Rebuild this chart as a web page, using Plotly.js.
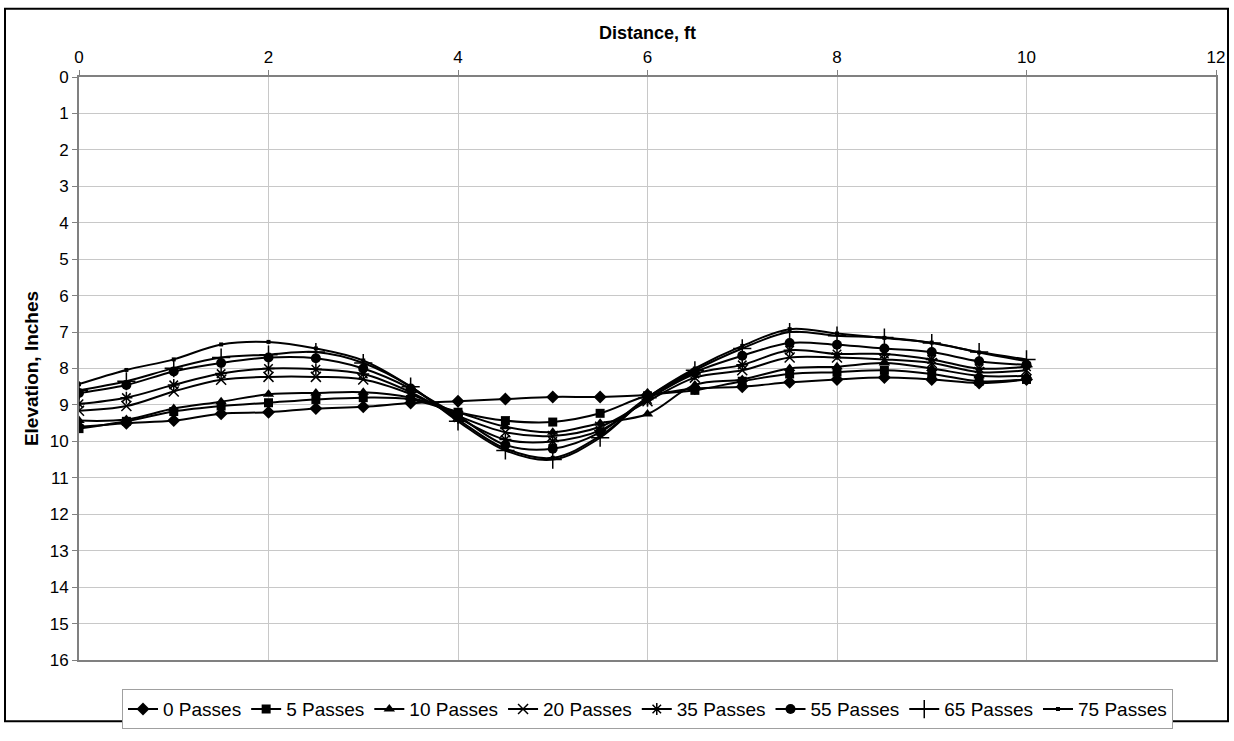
<!DOCTYPE html>
<html>
<head>
<meta charset="utf-8">
<script src="https://cdn.plot.ly/plotly-3.0.1.min.js"></script>
<style>
html,body{margin:0;padding:0;background:#fff;}
#chart{width:1234px;height:741px;}
</style>
</head>
<body>
<div id="chart"></div>
<script>
// Distance along the profile, ft
const distance = [0,0.5,1,1.5,2,2.5,3,3.5,4,4.5,5,5.5,6,6.5,7,7.5,8,8.5,9,9.5,10];

// Elevation, inches, for each number of passes
const passes0  = [9.6, 9.5, 9.43, 9.24, 9.2, 9.1, 9.05, 8.95, 8.9, 8.84, 8.78, 8.78, 8.72, 8.55, 8.5, 8.38, 8.3, 8.25, 8.3, 8.4, 8.3];
const passes5  = [9.65, 9.45, 9.18, 9.03, 8.94, 8.85, 8.8, 8.85, 9.2, 9.43, 9.47, 9.23, 8.75, 8.6, 8.35, 8.15, 8.1, 8.05, 8.15, 8.35, 8.3];
const passes10 = [9.43, 9.4, 9.1, 8.91, 8.71, 8.67, 8.65, 8.8, 9.2, 9.6, 9.75, 9.5, 9.25, 8.45, 8.3, 8.0, 7.95, 7.85, 8.0, 8.2, 8.2];
const passes20 = [9.16, 9.03, 8.63, 8.31, 8.23, 8.23, 8.3, 8.7, 9.3, 9.75, 9.85, 9.6, 8.9, 8.25, 8.05, 7.7, 7.7, 7.75, 7.85, 8.1, 8.05];
const passes35 = [8.97, 8.8, 8.45, 8.14, 8.0, 8.02, 8.15, 8.65, 9.35, 9.95, 10.0, 9.7, 8.85, 8.15, 7.9, 7.5, 7.6, 7.6, 7.75, 8.0, 7.95];
const passes55 = [8.67, 8.45, 8.08, 7.85, 7.7, 7.72, 8.0, 8.55, 9.3, 10.1, 10.2, 9.75, 8.8, 8.1, 7.65, 7.3, 7.35, 7.45, 7.55, 7.8, 7.9];
const passes65 = [8.6, 8.35, 7.99, 7.7, 7.62, 7.55, 7.85, 8.5, 9.45, 10.25, 10.5, 9.9, 8.8, 8.05, 7.45, 7.0, 7.1, 7.15, 7.3, 7.55, 7.75];
const passes75 = [8.43, 8.04, 7.75, 7.34, 7.27, 7.45, 7.78, 8.5, 9.4, 10.2, 10.45, 9.85, 8.8, 8.0, 7.38, 6.92, 7.04, 7.16, 7.29, 7.56, 7.8];

const seriesNames = ["0 Passes","5 Passes","10 Passes","20 Passes","35 Passes","55 Passes","65 Passes","75 Passes"];
const seriesValues = [passes0, passes5, passes10, passes20, passes35, passes55, passes65, passes75];

const xTicks = [0,2,4,6,8,10,12];
const yTicks = [0,1,2,3,4,5,6,7,8,9,10,11,12,13,14,15,16];

const markerStyles = [
  {symbol:"diamond", size:10},
  {symbol:"square", size:9},
  {symbol:"triangle-up", size:10},
  {symbol:"x-thin", size:10, line:{width:1.5, color:"#000"}},
  {symbol:"asterisk", size:10, line:{width:1.5, color:"#000"}},
  {symbol:"circle", size:10},
  {symbol:"cross-thin", size:13, line:{width:1.5, color:"#000"}},
  {symbol:"square", size:4}
];

const traces = seriesNames.map((name, i) => ({
  x: distance,
  y: seriesValues[i],
  name: name,
  type: "scatter",
  mode: "lines+markers",
  line: {color:"#000", width:2, shape:"spline", smoothing:1},
  marker: Object.assign({color:"#000"}, markerStyles[i])
}));

const FONT = "Liberation Sans, Arial, sans-serif";
const L = 79, R = 18, T = 77, B = 65;
const PW = 1234 - L - R, PH = 741 - T - B;

const layout = {
  width: 1234, height: 741,
  margin: {l:L, r:R, t:T, b:B, pad:0},
  paper_bgcolor: "#fff",
  plot_bgcolor: "#fff",
  font: {family: FONT, color:"#000", size:17},
  showlegend: true,
  legend: {
    orientation: "h",
    x: 0.5, xanchor: "center",
    y: -(706 - 676) / PH, yanchor: "top",
    bordercolor: "#a0a0a0", borderwidth: 1,
    font: {family: FONT, size: 19, color:"#000"},
    itemwidth: 30,
    tracegroupgap: 0
  },
  xaxis: {
    side: "top",
    range: [0, 12],
    tickvals: xTicks,
    ticktext: xTicks.map(String),
    showgrid: true, gridcolor: "#c8c8c8", gridwidth: 1,
    zeroline: false,
    showline: true, linecolor: "#808080", linewidth: 2, mirror: true,
    ticks: "outside", ticklen: 5, tickcolor: "#808080",
    tickfont: {family: FONT, size: 17, color:"#000"},
    title: {text: "<b>Distance, ft</b>", font: {family: FONT, size: 18, color:"#000"}, standoff: 4}
  },
  yaxis: {
    range: [16, 0],
    tickvals: yTicks,
    ticktext: yTicks.map(String),
    showgrid: true, gridcolor: "#c8c8c8", gridwidth: 1,
    zeroline: false,
    showline: true, linecolor: "#808080", linewidth: 2, mirror: true,
    ticks: "outside", ticklen: 5, tickcolor: "#808080",
    tickfont: {family: FONT, size: 17, color:"#000"},
    title: {text: "<b>Elevation, Inches</b>", font: {family: FONT, size: 19, color:"#000"}, standoff: 6}
  },
  shapes: [{
    type: "rect", xref: "paper", yref: "paper",
    x0: (5 - L) / PW, x1: (1228 - L) / PW,
    y0: (676 - 739) / PH, y1: (676 - 7) / PH,
    line: {color:"#000", width:2}, fillcolor: "rgba(0,0,0,0)", layer: "below"
  }]
};

Plotly.newPlot("chart", traces, layout, {displayModeBar:false, staticPlot:true});
</script>
</body>
</html>
